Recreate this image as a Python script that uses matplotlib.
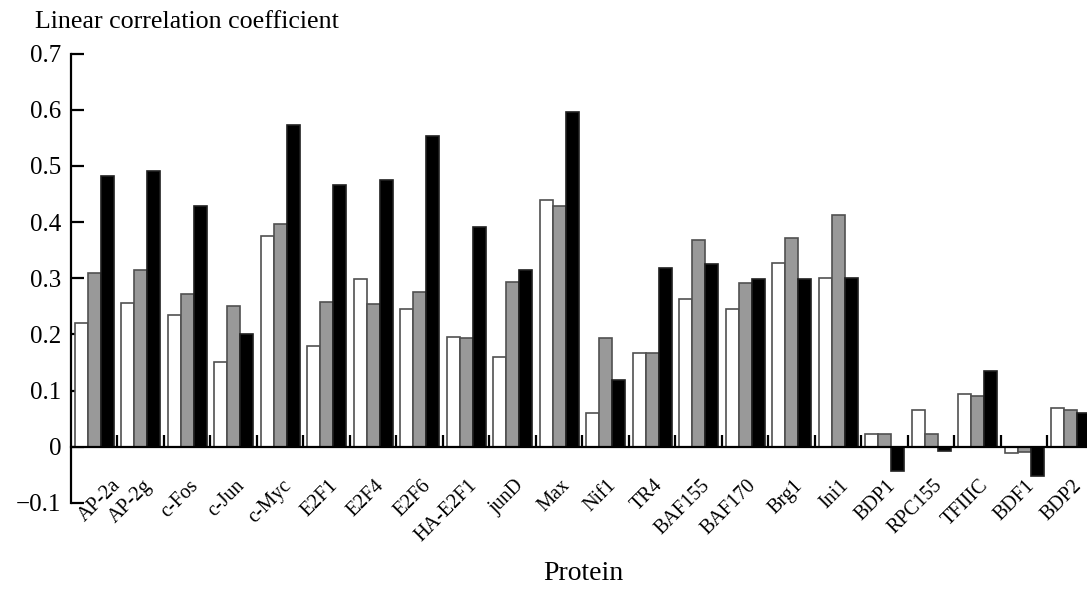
import matplotlib
matplotlib.use("Agg")
import matplotlib.pyplot as plt
import matplotlib.transforms as mtransforms
import numpy as np

proteins = ["AP-2a", "AP-2g", "c-Fos", "c-Jun", "c-Myc", "E2F1", "E2F4", "E2F6",
            "HA-E2F1", "junD", "Max", "Nif1", "TR4", "BAF155", "BAF170", "Brg1",
            "Ini1", "BDP1", "RPC155", "TFIIIC", "BDF1", "BDP2"]
series_white = [0.221, 0.255, 0.234, 0.151, 0.376, 0.180, 0.299, 0.246, 0.196, 0.160,
                0.440, 0.060, 0.167, 0.263, 0.246, 0.327, 0.300, 0.023, 0.065, 0.094,
                -0.011, 0.069]
series_gray = [0.310, 0.314, 0.272, 0.250, 0.397, 0.257, 0.254, 0.276, 0.193, 0.294,
               0.428, 0.194, 0.167, 0.368, 0.292, 0.371, 0.413, 0.023, 0.022, 0.090,
               -0.010, 0.065]
series_black = [0.482, 0.491, 0.429, 0.201, 0.573, 0.466, 0.474, 0.553, 0.391, 0.314,
                0.596, 0.119, 0.318, 0.326, 0.298, 0.299, 0.300, -0.044, -0.007, 0.135,
                -0.053, 0.060]
y_ticks = [-0.1, 0, 0.1, 0.2, 0.3, 0.4, 0.5, 0.6, 0.7]
y_tick_labels = ["\u22120.1", "0", "0.1", "0.2", "0.3", "0.4", "0.5", "0.6", "0.7"]

plt.rcParams['font.family'] = ['Liberation Serif', 'DejaVu Serif']

fig = plt.figure(figsize=(10.87, 5.89), dpi=100)
ax = fig.add_axes([71 / 1087, 1 - 502.9 / 589, 1 - 71 / 1087, (502.9 - 53.5) / 589])

x = np.arange(len(proteins))
w = 0.28
edge = "#505050"
ax.bar(x - w, series_white, w, color="white", edgecolor=edge, linewidth=1.2, zorder=2)
ax.bar(x, series_gray, w, color="#999999", edgecolor=edge, linewidth=1.2, zorder=2)
ax.bar(x + w, series_black, w, color="black", edgecolor="#202020", linewidth=1.2, zorder=2)

ax.set_xlim(-0.5, 21.35)
ax.set_ylim(-0.1, 0.7)

for s in ["top", "right"]:
    ax.spines[s].set_visible(False)
ax.spines["bottom"].set_position(("data", 0))
ax.spines["bottom"].set_zorder(3)
ax.spines["left"].set_linewidth(1.6)
ax.spines["bottom"].set_linewidth(1.6)
ax.spines["left"].set_bounds(-0.1, 0.7)

ax.set_yticks(y_ticks)
ax.set_yticklabels(y_tick_labels, fontsize=18)
ax.tick_params(axis="y", direction="in", length=9, width=1.6, pad=7)

ax.set_xticks(x)
ax.set_xticklabels(proteins, fontsize=14.5)
ax.set_xticks(np.arange(len(proteins) - 1) + 0.5, minor=True)
ax.tick_params(axis="x", which="major", length=0, pad=26)
ax.tick_params(axis="x", which="minor", direction="in", length=9, width=1.6)
for i, lab in enumerate(ax.get_xticklabels()):
    dx = 24 if i == 0 else 8
    lab.set_rotation(45)
    lab.set_ha("right")
    lab.set_va("center")
    lab.set_rotation_mode("anchor")
    lab.set_transform(lab.get_transform()
                      + mtransforms.ScaledTranslation(dx / 100, 0, fig.dpi_scale_trans))

fig.text(35 / 1087, 1 - 22 / 589, "Linear correlation coefficient", fontsize=18.7,
         ha="left", va="center")
fig.text(583 / 1087, 1 - 573 / 589, "Protein", fontsize=20, ha="center", va="center")

fig.savefig("out.png", dpi=100)
